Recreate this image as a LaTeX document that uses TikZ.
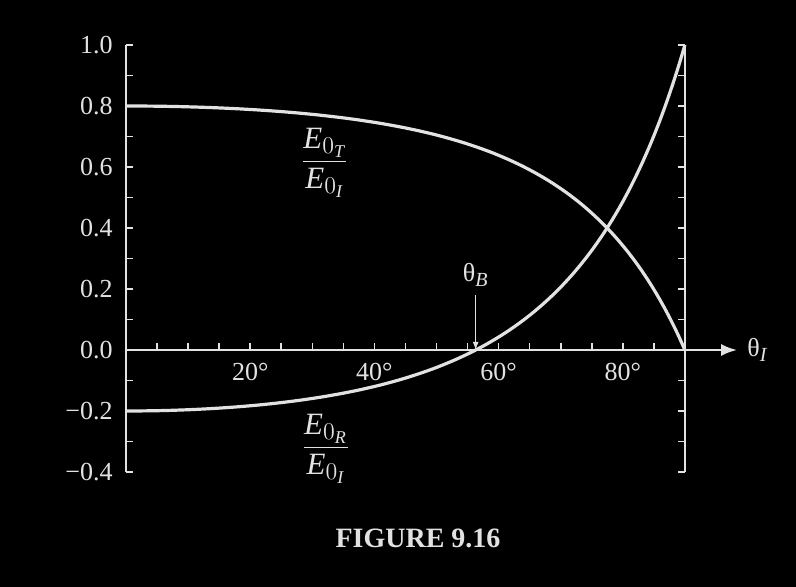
\documentclass[tikz,border=0pt]{standalone}
\usepackage{amsmath}
\usepackage{fontspec}
\setmainfont{Liberation Serif}
\usepackage{tikz}
\usetikzlibrary{arrows.meta}
\DeclareMathSizes{13}{13}{10}{7.5}
\DeclareMathSizes{15.5}{15.5}{11.5}{9}
\definecolor{chalk}{HTML}{E2E2E2}
\tikzset{
  axisline/.style={chalk, line width=1.1pt},
  tickline/.style={chalk, line width=0.8pt},
  curveline/.style={chalk, line width=1.6pt},
  ticklabel/.style={text=chalk, inner sep=0pt, font=\fontsize{13}{15}\selectfont},
  ratiolabel/.style={text=chalk, inner sep=0pt, font=\fontsize{15.5}{18}\selectfont},
}

\begin{document}
\begin{tikzpicture}[x=3.105pt, y=152.5pt,
    declare function={ct(\t)=sqrt(1-(sin(\t)/1.5)^2);
      tco(\t)=2*cos(\t)/(ct(\t)+1.5*cos(\t));
      rco(\t)=(ct(\t)-1.5*cos(\t))/(ct(\t)+1.5*cos(\t));}]
     % Background
     \fill[black] (-63pt,-118.5pt) rectangle (335pt,175pt);
     \useasboundingbox (-63pt,-118.5pt) rectangle (335pt,175pt);
     % Axes
     \coordinate (origin) at (0,0);
     \coordinate (xend) at (98.4,0);
     \coordinate (ytop) at (0,1);
     \coordinate (ybot) at (0,-0.4);
     \coordinate (rtop) at (90,1);
     \coordinate (rbot) at (90,-0.4);
     \draw[axisline] (ybot) -- (ytop);
     \draw[axisline] (rbot) -- (rtop);
     \draw[axisline, -{Latex[length=8pt,width=6pt]}] (origin) -- (xend);
     \node[ticklabel, anchor=west] (thetaI) at ([xshift=5pt]xend) {θ$_{\textit{I}}$};
     % Ticks
     \foreach \d in {5,10,...,85} \draw[tickline] (\d,0) -- ++(0,3.5pt);
     \foreach \k in {-4,...,10} {
       \draw[tickline] (0,{\k/10}) -- ++(3.5pt,0);
       \draw[tickline] (90,{\k/10}) -- ++(-3.5pt,0);
     }
     % Tick labels
     \foreach \k/\lab in {-4/−0.4, -2/−0.2, 0/0.0, 2/0.2, 4/0.4, 6/0.6, 8/0.8, 10/1.0}
       \node[ticklabel, anchor=east] (ylab\k) at ([xshift=-6.5pt]0,{\k/10}) {\lab};
     \foreach \d in {20,40,60,80}
       \node[ticklabel, anchor=base] (xlab\d) at ([yshift=-15.5pt]\d,0) {\d°};
     % Transmitted and reflected amplitudes
     \draw[curveline] plot[domain=0:90, samples=91, smooth] (\x,{tco(\x)});
     \draw[curveline] plot[domain=0:90, samples=91, smooth] (\x,{rco(\x)});
     \node[ratiolabel] (ratioT) at (32,0.614) {$\dfrac{\textit{E}_{0_{\textit{T}}}}{\textit{E}_{0_{\textit{I}}}}$};
     \node[ratiolabel] (ratioR) at (32.2,-0.323) {$\dfrac{\textit{E}_{0_{\textit{R}}}}{\textit{E}_{0_{\textit{I}}}}$};
     % Brewster angle
     \coordinate (brewster) at ({atan(1.5)},0);
     \node[ticklabel] (thetaB) at ({atan(1.5)},0.246) {θ$_{\textit{B}}$};
     \draw[tickline, line width=0.6pt, -{Latex[length=4pt,width=3pt]}, shorten <=4pt] (thetaB.south) -- (brewster);
     % Caption
     \node[text=chalk, font=\bfseries\fontsize{14}{16}\selectfont] (caption) at (146pt,-94pt) {FIGURE 9.16};
\end{tikzpicture}
\end{document}
